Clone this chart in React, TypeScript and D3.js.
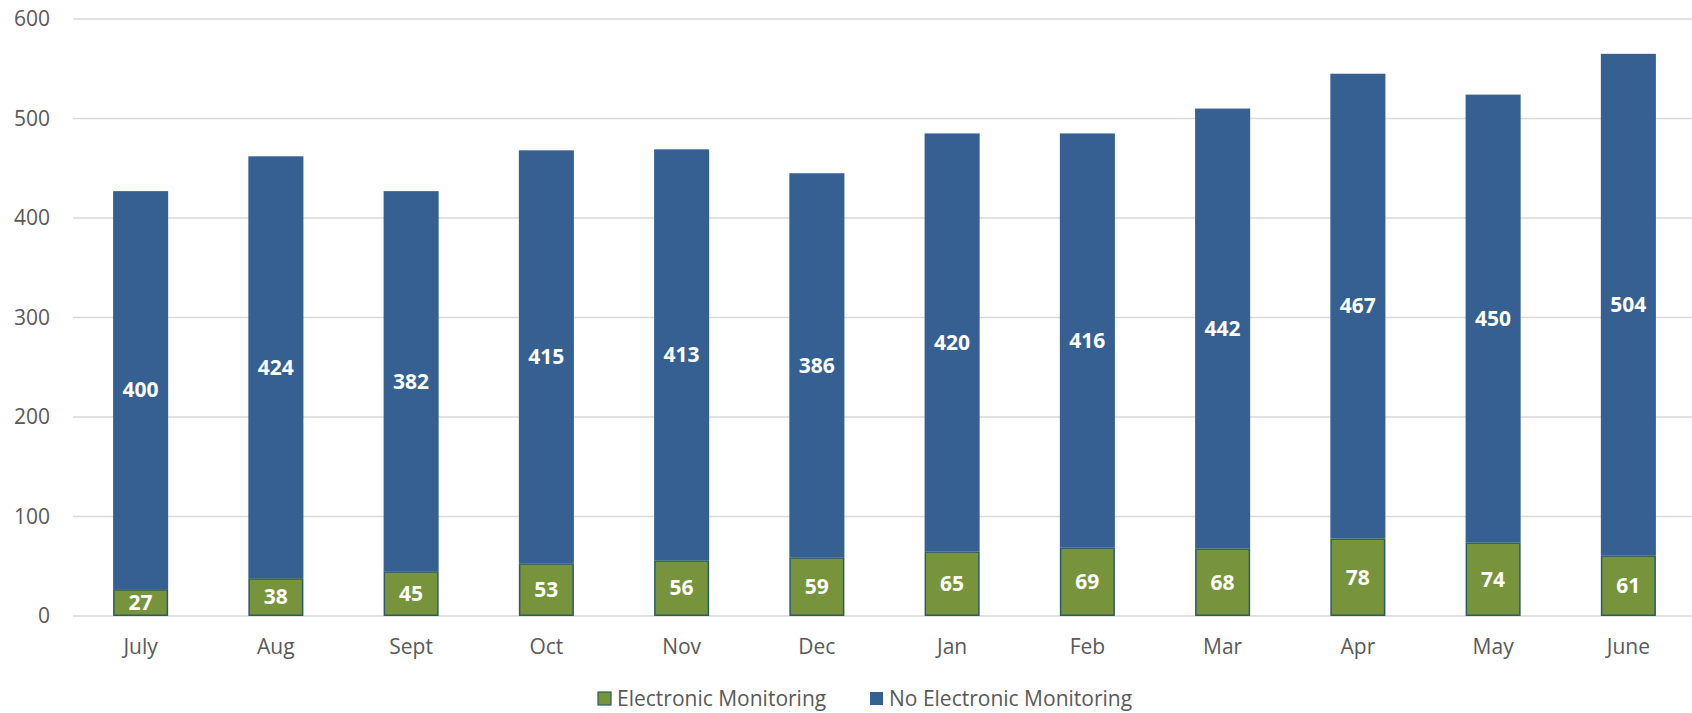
import React, { useRef, useEffect } from "react"
import * as d3 from "d3"

const months = ["July", "Aug", "Sept", "Oct", "Nov", "Dec", "Jan", "Feb", "Mar", "Apr", "May", "June"]
const electronic = [27, 38, 45, 53, 56, 59, 65, 69, 68, 78, 74, 61]
const noElectronic = [400, 424, 382, 415, 413, 386, 420, 416, 442, 467, 450, 504]
const yTicks = [0, 100, 200, 300, 400, 500, 600]
const seriesNames = ["Electronic Monitoring", "No Electronic Monitoring"]

const W = 1692, H = 713
const FONT = "'Open Sans', Lato, sans-serif"

export default function App() {
  const svgRef = useRef<SVGSVGElement>(null)

  useEffect(() => {
    const svg = d3.select(svgRef.current)
    svg.selectAll("*").remove()

    const x = d3.scaleBand().domain(months).range([73, 1696]).paddingInner(0.593).paddingOuter(0.2965)
    const y = d3.scaleLinear().domain([0, 600]).range([616, 19])

    // gridlines + y labels
    const grid = svg.append("g")
    grid.selectAll("line").data(yTicks).enter().append("line")
      .attr("x1", 73).attr("x2", W)
      .attr("y1", d => y(d)).attr("y2", d => y(d))
      .attr("stroke", "#d9d9d9").attr("stroke-width", 1.5)
    grid.selectAll("text").data(yTicks).enter().append("text")
      .attr("x", 50).attr("y", d => y(d)).attr("dy", "0.35em")
      .attr("text-anchor", "end").attr("font-family", FONT).attr("font-size", 21)
      .attr("fill", "#595959").text(d => d)

    const rows = months.map((m, i) => ({ m, e: electronic[i], n: noElectronic[i] }))

    // blue part on top
    svg.append("g").selectAll("rect").data(rows).enter().append("rect")
      .attr("x", d => x(d.m)!).attr("width", x.bandwidth())
      .attr("y", d => y(d.e + d.n)).attr("height", d => y(d.e) - y(d.e + d.n))
      .attr("fill", "#366092")

    // green part
    svg.append("g").selectAll("rect").data(rows).enter().append("rect")
      .attr("x", d => x(d.m)! + 0.75).attr("width", x.bandwidth() - 1.5)
      .attr("y", d => y(d.e) + 0.75).attr("height", d => y(0) - y(d.e) - 1.5)
      .attr("fill", "#77933c").attr("stroke", "#2b5b66").attr("stroke-width", 1.5)

    const labels = svg.append("g").attr("font-family", FONT).attr("font-size", 21)
      .attr("font-weight", "bold").attr("fill", "#fff").attr("text-anchor", "middle")
    labels.selectAll("text.n").data(rows).enter().append("text").attr("class", "n")
      .attr("x", d => x(d.m)! + x.bandwidth() / 2)
      .attr("y", d => y(d.e + d.n / 2)).attr("dy", "0.35em").text(d => d.n)
    labels.selectAll("text.e").data(rows).enter().append("text").attr("class", "e")
      .attr("x", d => x(d.m)! + x.bandwidth() / 2)
      .attr("y", d => y(d.e / 2)).attr("dy", "0.35em").text(d => d.e)

    // x labels
    svg.append("g").selectAll("text").data(months).enter().append("text")
      .attr("x", d => x(d)! + x.bandwidth() / 2).attr("y", 647).attr("dy", "0.35em")
      .attr("text-anchor", "middle").attr("font-family", FONT).attr("font-size", 21)
      .attr("fill", "#595959").text(d => d)

    // legend
    const legend = svg.append("g").attr("font-family", FONT).attr("font-size", 21).attr("fill", "#595959")
    const lx = [598, 870]
    seriesNames.forEach((name, i) => {
      legend.append("rect").attr("x", lx[i]).attr("y", 692).attr("width", 13).attr("height", 13)
        .attr("fill", i === 0 ? "#77933c" : "#366092")
        .attr("stroke", i === 0 ? "#2b5b66" : "none").attr("stroke-width", 1.2)
      legend.append("text").attr("x", lx[i] + 19).attr("y", 699).attr("dy", "0.35em").text(name)
    })
  }, [])

  return (
    <svg ref={svgRef} width={W} height={H} style={{ display: "block", position: "absolute", left: 0, top: 0 }}></svg>
  )
}
